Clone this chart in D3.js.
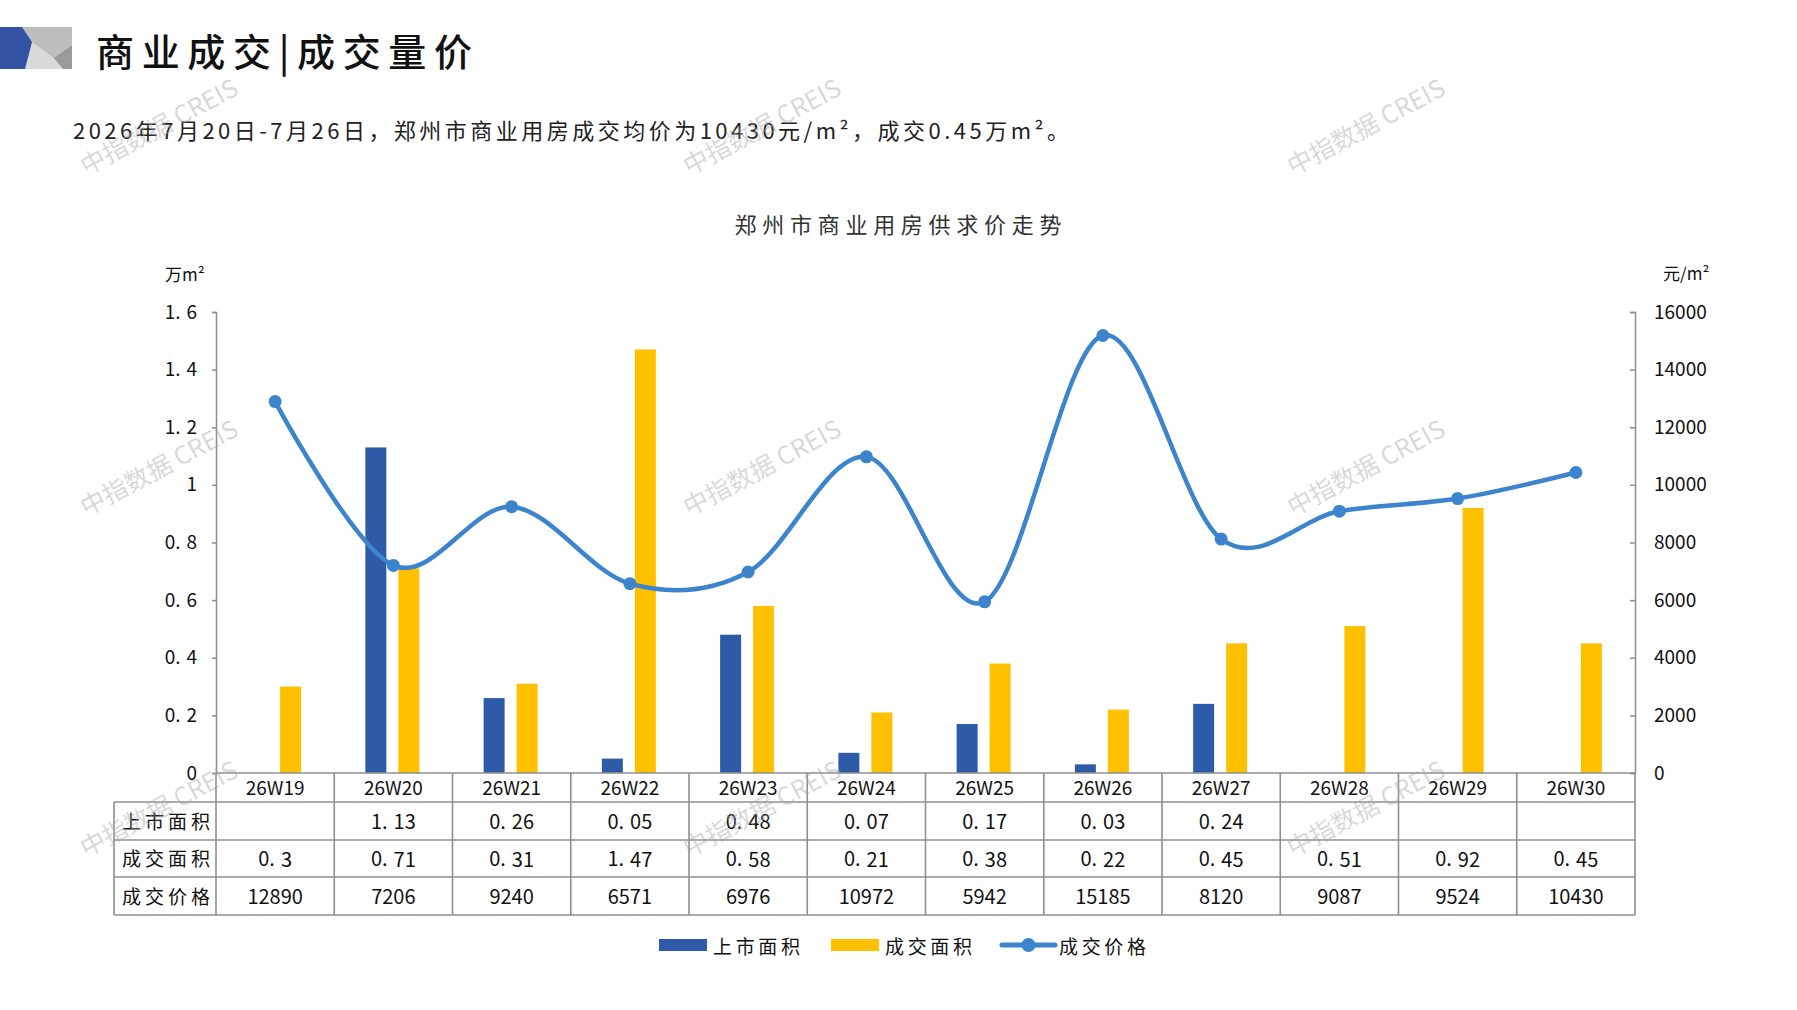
<!DOCTYPE html>
<html>
<head>
<meta charset="utf-8">
<script src="https://cdn.jsdelivr.net/npm/d3@7"></script>
<style>
  html, body { margin: 0; padding: 0; background: #fff; }
  svg { display: block; font-family: "Noto Sans CJK SC", "Noto Sans", sans-serif; }
</style>
</head>
<body>
<svg id="chart" width="1797" height="1010"></svg>
<script>
// ---------- data ----------
const categories = ["26W19","26W20","26W21","26W22","26W23","26W24","26W25","26W26","26W27","26W28","26W29","26W30"];
const listingArea = [null, 1.13, 0.26, 0.05, 0.48, 0.07, 0.17, 0.03, 0.24, null, null, null];
const dealArea    = [0.3, 0.71, 0.31, 1.47, 0.58, 0.21, 0.38, 0.22, 0.45, 0.51, 0.92, 0.45];
const dealPrice   = [12890, 7206, 9240, 6571, 6976, 10972, 5942, 15185, 8120, 9087, 9524, 10430];
const leftTicks   = [0, 0.2, 0.4, 0.6, 0.8, 1, 1.2, 1.4, 1.6];
const rightTicks  = [0, 2000, 4000, 6000, 8000, 10000, 12000, 14000, 16000];
const seriesNames = ["上市面积", "成交面积", "成交价格"];
const pageTitle   = "商业成交|成交量价";
const subtitle    = "2026年7月20日-7月26日，郑州市商业用房成交均价为10430元/m²，成交0.45万m²。";
const chartTitle  = "郑州市商业用房供求价走势";
const watermark   = "中指数据 CREIS";

const BLUE = "#2E5BA8", YELLOW = "#FFC000", LINE = "#3C84CB", GRID = "#8f8f8f";

const svg = d3.select("#chart");

// ---------- header ----------
const logo = svg.append("g");
logo.append("rect").attr("x", 0).attr("y", 27).attr("width", 72).attr("height", 42).attr("fill", "#dadada");
logo.append("polygon").attr("points", "22,27 72,27 72,45 54,58 32,42").attr("fill", "#bdbdbd");
logo.append("polygon").attr("points", "54,58 72,45 72,69 63,69").attr("fill", "#9a9a9a");
logo.append("polygon").attr("points", "0,27 22,27 32,42 25,69 0,69").attr("fill", "#3352A3");

svg.append("text").attr("x", 96).attr("y", 66)
  .attr("font-size", 38).attr("font-weight", 500).attr("fill", "#111").attr("textLength", 376).attr("lengthAdjust", "spacing")
  .text(pageTitle);

svg.append("text").attr("x", 73).attr("y", 139)
  .attr("font-size", 22).attr("fill", "#222").attr("textLength", 996).attr("lengthAdjust", "spacing")
  .text(subtitle);

svg.append("text").attr("x", 898).attr("y", 233).attr("text-anchor", "middle")
  .attr("font-size", 22).attr("fill", "#333").attr("textLength", 327).attr("lengthAdjust", "spacing")
  .text(chartTitle);

// ---------- scales ----------
const X0 = 216, X1 = 1635, Y0 = 773, YT = 312;
const x = d3.scaleBand().domain(categories).range([X0, X1]).padding(0);
const bw = x.bandwidth();
const xs = d3.scaleBand().domain(["listing", "deal"]).range([bw / 2 - 28, bw / 2 + 26]).paddingInner(0.364).paddingOuter(0);
const yL = d3.scaleLinear().domain([0, 1.6]).range([Y0, YT]);
const yR = d3.scaleLinear().domain([0, 16000]).range([Y0, YT]);

// ---------- axes ----------
function spreadDot(sel) {
  sel.selectAll(".tick text").each(function () {
    const t = d3.select(this);
    const s = t.text();
    const i = s.indexOf(".");
    if (i >= 0) {
      t.text(s.slice(0, i + 1));
      t.append("tspan").attr("dx", 6).text(s.slice(i + 1));
    }
  });
}

const gL = svg.append("g").attr("transform", `translate(${X0},0)`)
  .call(d3.axisLeft(yL).tickValues(leftTicks).tickSize(4).tickPadding(15).tickFormat(d3.format("")));
gL.select(".domain").attr("stroke", GRID).attr("stroke-width", 1.5);
gL.selectAll(".tick line").attr("stroke", GRID).attr("stroke-width", 1.5);
gL.selectAll(".tick text").attr("font-size", 19).attr("fill", "#111").attr("font-family", "Noto Sans CJK SC");
spreadDot(gL);

const gR = svg.append("g").attr("transform", `translate(${X1},0)`)
  .call(d3.axisRight(yR).tickValues(rightTicks).tickSize(-5).tickPadding(19).tickFormat(d3.format("d")));
gR.select(".domain").attr("stroke", GRID).attr("stroke-width", 1.5);
gR.selectAll(".tick line").attr("stroke", GRID).attr("stroke-width", 1.5);
gR.selectAll(".tick text").attr("font-size", 19).attr("fill", "#111").attr("font-family", "Noto Sans CJK SC");

svg.append("text").attr("x", 165).attr("y", 281).attr("font-size", 17).attr("fill", "#111").text("万m²");
svg.append("text").attr("x", 1663).attr("y", 280).attr("font-size", 17).attr("fill", "#111").text("元/m²");

// ---------- bars ----------
const gBars = svg.append("g");
categories.forEach((c, i) => {
  if (listingArea[i] != null) {
    gBars.append("rect").attr("x", x(c) + xs("listing")).attr("width", xs.bandwidth())
      .attr("y", yL(listingArea[i])).attr("height", Y0 - yL(listingArea[i])).attr("fill", BLUE);
  }
  if (dealArea[i] != null) {
    gBars.append("rect").attr("x", x(c) + xs("deal")).attr("width", xs.bandwidth())
      .attr("y", yL(dealArea[i])).attr("height", Y0 - yL(dealArea[i])).attr("fill", YELLOW);
  }
});

// ---------- table ----------
const rowTops = [773, 802, 840, 877, 915];
const TL = 114;
const gT = svg.append("g");
function hline(x1, x2, y) {
  gT.append("line").attr("x1", x1).attr("x2", x2).attr("y1", y).attr("y2", y)
    .attr("stroke", "#8f8f8f").attr("stroke-width", 1.6);
}
function vline(xv, y1, y2) {
  gT.append("line").attr("x1", xv).attr("x2", xv).attr("y1", y1).attr("y2", y2)
    .attr("stroke", "#8f8f8f").attr("stroke-width", 1.6);
}
hline(X0, X1, rowTops[0]);
for (let r = 1; r < rowTops.length; r++) hline(TL, X1, rowTops[r]);
vline(TL, rowTops[1], rowTops[4]);
categories.forEach(c => vline(x(c), rowTops[0], rowTops[4]));
vline(X1, rowTops[0], rowTops[4]);

function cellText(xc, yc, s, size) {
  const t = gT.append("text").attr("x", xc).attr("y", yc).attr("text-anchor", "middle")
    .attr("dominant-baseline", "central").attr("font-size", size).attr("fill", "#111");
  const i = s.indexOf(".");
  if (i >= 0) {
    t.text(s.slice(0, i + 1));
    t.append("tspan").attr("dx", 6).text(s.slice(i + 1));
  } else t.text(s);
  return t;
}
categories.forEach(c => cellText(x(c) + bw / 2, (rowTops[0] + rowTops[1]) / 2 - 1, c, 19));
const rows = [listingArea, dealArea, dealPrice];
rows.forEach((arr, r) => {
  const yc = (rowTops[r + 1] + rowTops[r + 2]) / 2 - 1;
  gT.append("text").attr("x", TL + 8).attr("y", yc).attr("dominant-baseline", "central")
    .attr("font-size", 19).attr("fill", "#111").attr("letter-spacing", 4).text(seriesNames[r]);
  arr.forEach((v, i) => {
    if (v != null) cellText(x(categories[i]) + bw / 2, yc, String(v), 20);
  });
});

// ---------- line ----------
const pts = categories.map((c, i) => [x(c) + bw / 2, yR(dealPrice[i])]);
svg.append("path").attr("d", d3.line().curve(d3.curveCatmullRom.alpha(0))(pts))
  .attr("fill", "none").attr("stroke", LINE).attr("stroke-width", 4.5).attr("stroke-linejoin", "round");
svg.append("g").selectAll("circle").data(pts).join("circle")
  .attr("cx", d => d[0]).attr("cy", d => d[1]).attr("r", 6.5).attr("fill", LINE);

// ---------- legend ----------
const lg = svg.append("g");
const LY = 945;
const legendItems = [
  { kind: "rect", color: BLUE,   x0: 659, x1: 707, tx: 713 },
  { kind: "rect", color: YELLOW, x0: 831, x1: 879, tx: 885 },
  { kind: "line", color: LINE,   x0: 1002, x1: 1055, tx: 1059 }
];
legendItems.forEach((it, k) => {
  if (it.kind === "rect") {
    lg.append("rect").attr("x", it.x0).attr("y", LY - 6).attr("width", it.x1 - it.x0).attr("height", 12).attr("fill", it.color);
  } else {
    lg.append("line").attr("x1", it.x0).attr("x2", it.x1).attr("y1", LY).attr("y2", LY)
      .attr("stroke", it.color).attr("stroke-width", 5).attr("stroke-linecap", "round");
    lg.append("circle").attr("cx", (it.x0 + it.x1) / 2).attr("cy", LY).attr("r", 7).attr("fill", it.color);
  }
  lg.append("text").attr("x", it.tx).attr("y", LY).attr("dominant-baseline", "central").attr("font-size", 19)
    .attr("textLength", 87).attr("lengthAdjust", "spacing").attr("fill", "#111").text(seriesNames[k]);
});

// ---------- watermarks ----------
const wmX = [158, 761, 1365], wmY = [125, 466, 807];
const gW = svg.append("g").attr("pointer-events", "none");
wmY.forEach(yy => wmX.forEach(xx => {
  gW.append("text").attr("x", xx).attr("y", yy).attr("text-anchor", "middle").attr("dominant-baseline", "central")
    .attr("transform", `rotate(-28,${xx},${yy})`).attr("font-size", 25).attr("fill", "#a8a8a8")
    .attr("fill-opacity", 0.45).text(watermark);
}));
</script>
</body>
</html>
